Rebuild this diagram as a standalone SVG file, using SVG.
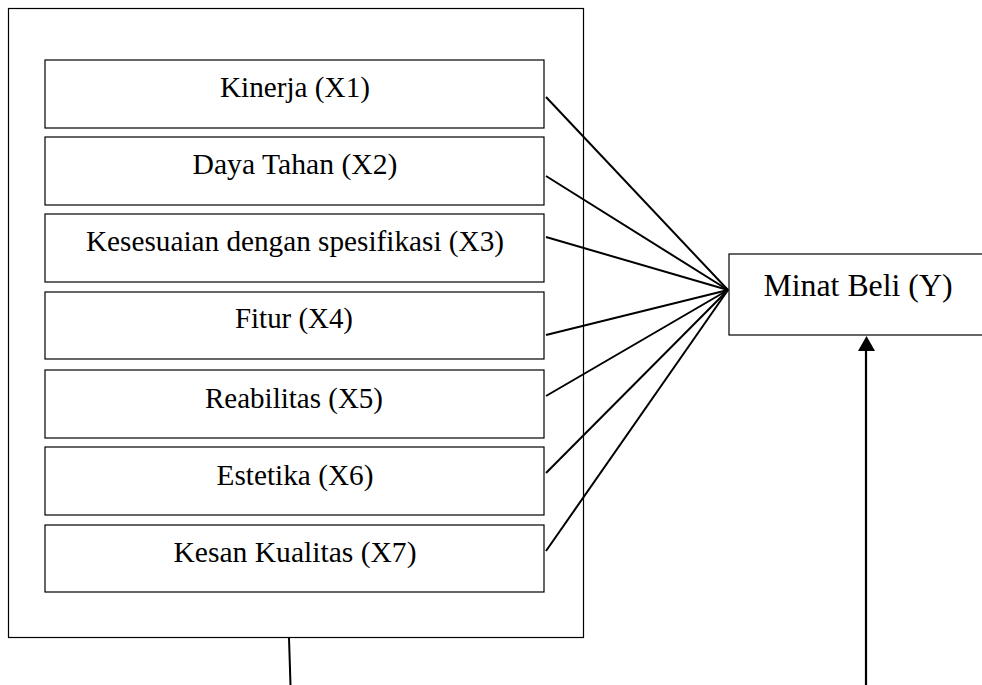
<svg xmlns="http://www.w3.org/2000/svg" width="982" height="685" viewBox="0 0 982 685">
<defs>
<style>
.box{fill:#fff;stroke:#000;stroke-width:1.2}
.t{font-family:"Liberation Serif","Times New Roman",serif;font-size:28.5px;fill:#000;text-anchor:middle}
.ty{font-family:"Liberation Serif","Times New Roman",serif;font-size:31.5px;fill:#000;text-anchor:middle}
.ln{stroke:#000;stroke-width:2;fill:none}
</style>
</defs>
<rect width="982" height="685" fill="#fff"/>
<g id="outer">
<rect class="box" x="8.5" y="8.5" width="575" height="629"/>
</g>
<g id="x1"><rect class="box" x="45" y="60" width="499" height="68"/><text class="t" x="295" y="97" textLength="150" lengthAdjust="spacingAndGlyphs">Kinerja (X1)</text></g>
<g id="x2"><rect class="box" x="45" y="137" width="499" height="68"/><text class="t" x="295" y="174" textLength="205" lengthAdjust="spacingAndGlyphs">Daya Tahan (X2)</text></g>
<g id="x3"><rect class="box" x="45" y="214" width="499" height="68"/><text class="t" x="295" y="251" textLength="418" lengthAdjust="spacingAndGlyphs">Kesesuaian dengan spesifikasi (X3)</text></g>
<g id="x4"><rect class="box" x="45" y="292" width="499" height="67"/><text class="t" x="294" y="328" textLength="118" lengthAdjust="spacingAndGlyphs">Fitur (X4)</text></g>
<g id="x5"><rect class="box" x="45" y="370" width="499" height="68"/><text class="t" x="294" y="408" textLength="178" lengthAdjust="spacingAndGlyphs">Reabilitas (X5)</text></g>
<g id="x6"><rect class="box" x="45" y="447" width="499" height="68"/><text class="t" x="295" y="485" textLength="157" lengthAdjust="spacingAndGlyphs">Estetika (X6)</text></g>
<g id="x7"><rect class="box" x="45" y="525" width="499" height="67"/><text class="t" x="295" y="562" textLength="243" lengthAdjust="spacingAndGlyphs">Kesan Kualitas (X7)</text></g>
<g id="y"><rect class="box" x="729" y="254" width="270" height="81"/><text class="ty" x="858" y="296" textLength="189" lengthAdjust="spacingAndGlyphs">Minat Beli (Y)</text></g>
<g id="connectors">
<line class="ln" x1="546" y1="97" x2="728" y2="290"/>
<line class="ln" x1="546" y1="176" x2="728" y2="290"/>
<line class="ln" x1="546" y1="237" x2="728" y2="290"/>
<line class="ln" x1="546" y1="335" x2="728" y2="290"/>
<line class="ln" x1="546" y1="396" x2="728" y2="290"/>
<line class="ln" x1="546" y1="473" x2="728" y2="290"/>
<line class="ln" x1="546" y1="551" x2="728" y2="290"/>
<line class="ln" x1="289" y1="638" x2="290.5" y2="685"/>
<line x1="866" y1="685" x2="866" y2="350" stroke="#000" stroke-width="2.2"/>
<path d="M858,351 L866.5,336 L875,351 Z" fill="#000"/>
</g>
</svg>
